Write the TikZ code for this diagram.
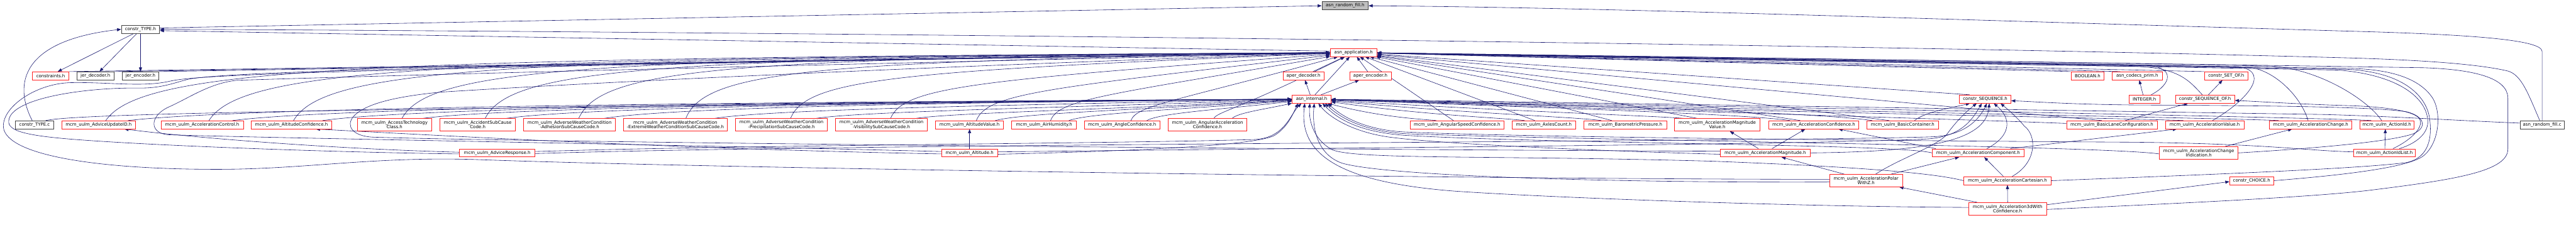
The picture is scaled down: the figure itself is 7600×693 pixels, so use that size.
\documentclass[tikz,border=0pt]{standalone}
\usepackage{fontspec}
\newfontfamily\dvs{DejaVu Sans}
\usetikzlibrary{arrows.meta}
\definecolor{edgeblue}{HTML}{191970}
\definecolor{nodered}{HTML}{FF2020}
\definecolor{nodegrey}{HTML}{404040}
\definecolor{rootfill}{HTML}{BFBFBF}
\pgfdeclarelayer{bg}
\pgfsetlayers{bg,main}
\tikzset{
  basebox/.style={draw, line width=1.3pt, fill=white, inner sep=0pt, minimum height=24pt, align=center, font=\dvs\fontsize{13pt}{14pt}\selectfont},
  redbox/.style={basebox, draw=nodered},
  blkbox/.style={basebox, draw=nodegrey},
  tworow/.style={minimum height=37pt},
  edg/.style={draw=edgeblue, line width=1.1pt, -{Triangle[length=12pt,width=9pt]}},
}
\begin{document}
\begin{tikzpicture}[x=1pt,y=-1pt]
\useasboundingbox (0,0) rectangle (7600,693);
% ---------- nodes ----------
\node[blkbox, fill=rootfill, minimum width=137pt] (rfh) at (3968.5,17) {asn\_random\_fill.h};
\node[blkbox, minimum width=113pt] (ctypeh) at (414.5,86.5) {constr\_TYPE.h};
\node[redbox, minimum width=137pt] (apph) at (3993.5,155) {asn\_application.h};
% rank 3
\node[redbox, minimum width=107pt] (constraints) at (149.5,224) {constraints.h};
\node[blkbox, minimum width=109pt] (jerdec) at (281.5,224) {jer\_decoder.h};
\node[blkbox, minimum width=109pt] (jerenc) at (414.5,224) {jer\_encoder.h};
\node[redbox, minimum width=121pt] (aperdec) at (3845.5,224) {aper\_decoder.h};
\node[redbox, minimum width=122pt] (aperenc) at (4043,224) {aper\_encoder.h};
\node[redbox, minimum width=98pt] (boolean) at (6159,224) {BOOLEAN.h};
\node[redbox, minimum width=147pt] (codecsprim) at (6305.5,224) {asn\_codecs\_prim.h};
\node[redbox, minimum width=128pt] (setof) at (6568,224) {constr\_SET\_OF.h};
% rank 4
\node[redbox, minimum width=115pt] (internal) at (3869.5,292.5) {asn\_internal.h};
\node[redbox, minimum width=152pt] (seq) at (5857,292.5) {constr\_SEQUENCE.h};
\node[redbox, minimum width=91pt] (integer) at (6326.5,292.5) {INTEGER.h};
\node[redbox, minimum width=175pt] (seqof) at (6505.5,292.5) {constr\_SEQUENCE\_OF.h};
% rank 5
\node[blkbox, minimum width=112pt] (ctypec) at (102,368.5) {constr\_TYPE.c};
\node[redbox, minimum width=218pt] (adviceupd) at (291,368.5) {mcm\_uulm\_AdviceUpdateID.h};
\node[redbox, minimum width=243pt] (accctrl) at (596.5,368.5) {mcm\_uulm\_AccelerationControl.h};
\node[redbox, minimum width=238pt] (altconf) at (860,368.5) {mcm\_uulm\_AltitudeConfidence.h};
\node[redbox, tworow, minimum width=220pt] (accesstech) at (1164,368.5) {mcm\_uulm\_AccessTechnology\\Class.h};
\node[redbox, tworow, minimum width=223pt] (accsub) at (1409.5,368.5) {mcm\_uulm\_AccidentSubCause\\Code.h};
\node[redbox, tworow, minimum width=271pt] (awcadh) at (1680.5,368.5) {mcm\_uulm\_AdverseWeatherCondition\\-AdhesionSubCauseCode.h};
\node[redbox, tworow, minimum width=307pt] (awcext) at (1992.5,368.5) {mcm\_uulm\_AdverseWeatherCondition\\-ExtremeWeatherConditionSubCauseCode.h};
\node[redbox, tworow, minimum width=271pt] (awcprec) at (2305.5,368.5) {mcm\_uulm\_AdverseWeatherCondition\\-PrecipitationSubCauseCode.h};
\node[redbox, tworow, minimum width=271pt] (awcvis) at (2600.5,368.5) {mcm\_uulm\_AdverseWeatherCondition\\-VisibilitySubCauseCode.h};
\node[redbox, minimum width=201pt] (altval) at (2860.5,368.5) {mcm\_uulm\_AltitudeValue.h};
\node[redbox, minimum width=191pt] (airhum) at (3080.5,368.5) {mcm\_uulm\_AirHumidity.h};
\node[redbox, minimum width=223pt] (angconf) at (3310.5,368.5) {mcm\_uulm\_AngleConfidence.h};
\node[redbox, tworow, minimum width=233pt] (angacc) at (3562.5,368.5) {mcm\_uulm\_AngularAcceleration\\Confidence.h};
\node[redbox, minimum width=276pt] (angspd) at (4299,368.5) {mcm\_uulm\_AngularSpeedConfidence.h};
\node[redbox, minimum width=188pt] (axles) at (4555,368.5) {mcm\_uulm\_AxlesCount.h};
\node[redbox, minimum width=244pt] (baro) at (4795,368.5) {mcm\_uulm\_BarometricPressure.h};
\node[redbox, tworow, minimum width=253pt] (accmagval) at (5066.5,368.5) {mcm\_uulm\_AccelerationMagnitude\\Value.h};
\node[redbox, minimum width=266pt] (accconf) at (5351,368.5) {mcm\_uulm\_AccelerationConfidence.h};
\node[redbox, minimum width=211pt] (basiccont) at (5613.5,368.5) {mcm\_uulm\_BasicContainer.h};
\node[redbox, minimum width=267pt] (basiclane) at (6230.5,368.5) {mcm\_uulm\_BasicLaneConfiguration.h};
\node[redbox, minimum width=231pt] (accval) at (6504.5,368.5) {mcm\_uulm\_AccelerationValue.h};
\node[redbox, minimum width=243pt] (accchg) at (6817.5,368.5) {mcm\_uulm\_AccelerationChange.h};
\node[redbox, minimum width=159pt] (actionid) at (7041.5,368.5) {mcm\_uulm\_ActionId.h};
\node[blkbox, minimum width=130pt] (rfc) at (7500,368.5) {asn\_random\_fill.c};
% rank 6
\node[redbox, minimum width=222pt] (adviceresp) at (1467,451.5) {mcm\_uulm\_AdviceResponse.h};
\node[redbox, minimum width=165pt] (altitude) at (2860.5,451.5) {mcm\_uulm\_Altitude.h};
\node[redbox, minimum width=264pt] (accmag) at (5208,451.5) {mcm\_uulm\_AccelerationMagnitude.h};
\node[redbox, minimum width=270pt] (acccomp) at (5836,451.5) {mcm\_uulm\_AccelerationComponent.h};
\node[redbox, tworow, minimum width=232pt] (accchgind) at (6487,451.5) {mcm\_uulm\_AccelerationChange\\Indication.h};
\node[redbox, minimum width=182pt] (actionidlist) at (7035,451.5) {mcm\_uulm\_ActionIdList.h};
% rank 7
\node[redbox, tworow, minimum width=215pt] (accpolar) at (5505.5,533.5) {mcm\_uulm\_AccelerationPolar\\WithZ.h};
\node[redbox, minimum width=257pt] (acccart) at (5922.5,533.5) {mcm\_uulm\_AccelerationCartesian.h};
\node[redbox, minimum width=130pt] (choice) at (6643,533.5) {constr\_CHOICE.h};
% rank 8
\node[redbox, tworow, minimum width=230pt] (acc3d) at (5923,616.5) {mcm\_uulm\_Acceleration3dWith\\Confidence.h};

\begin{pgfonlayer}{bg}
\fill[white] (0,0) rectangle (7600,693);
% ---------- top ----------
\draw[edg] ([yshift=4pt]ctypeh.east) -- (rfh.west);
\draw[edg] (rfc.north) -- (7500,152) .. controls (7500,118) and (7300,102) .. (6930,92) .. controls (5500,50) and (4700,22) .. (rfh.east);
\draw[edg] ([xshift=-7pt]rfc.north) .. controls (7460,280) and (7440,222) .. (7400,210) .. controls (7300,186) and (7100,176) .. (6930,171) .. controls (5000,118) and (1500,90) .. (ctypeh.east);
\draw[edg] ([yshift=4pt]apph.west) -- ([yshift=-4pt]ctypeh.east);
\draw[edg] ([xshift=-7pt]ctypec.north) .. controls (40,250) and (60,120) .. (ctypeh.west);
\draw[edg] ([xshift=-20pt]ctypeh.south) -- ([xshift=21pt]constraints.north);
\draw[edg] ([xshift=-11pt]ctypeh.south) -- ([xshift=12pt]jerdec.north);
\draw[edg] (ctypeh.south) -- (jerenc.north);
\draw[edg] (constraints.north east) -- (apph);
\draw[edg] (jerdec.north east) -- (apph);
\draw[edg] (jerenc.north east) -- (apph);
\draw[edg] ([xshift=33pt]ctypec.north) .. controls (250,330) and (1500,318) .. (internal);
% ---------- left rank 5 ----------
\foreach \nn/\xx/\sa/\si in {adviceupd/291/21/87, accctrl/596.5/20/90, altconf/860/6/92, accesstech/1164/22/84, accsub/1409.5/22/85, awcadh/1680.5/27/103, awcext/1992.5/31/117, awcprec/2305.5/27/103, awcvis/2600.5/27/103, altval/2860.5/20/76, airhum/3080.5/19/73, angconf/3310.5/26/73, angacc/3562.5/19/73}{
  \pgfmathsetmacro\qxa{\xx+\sa}
  \pgfmathsetmacro\qD{3925-\qxa}
  \pgfmathsetmacro\qf{min(1,\qD/2000)}
  \pgfmathsetmacro\qcax{\qxa+0.03*\qD}
  \pgfmathsetmacro\qcay{357-157*\qf}
  \pgfmathsetmacro\qcbx{\qxa+0.2*\qD}
  \pgfmathsetmacro\qcby{357-185*\qf}
  \draw[edg] ([xshift=\sa pt]\nn.north) .. controls (\qcax,\qcay) and (\qcbx,\qcby) .. (apph);
  \pgfmathsetmacro\qxi{\xx+\si}
  \pgfmathsetmacro\qE{3812-\qxi}
  \pgfmathsetmacro\qg{max(0.6,min(1,\qE/2000))}
  \pgfmathsetmacro\qcix{\qxi+0.1*\qE}
  \pgfmathsetmacro\qciy{357-40*\qg}
  \pgfmathsetmacro\qcjx{\qxi+0.5*\qE}
  \pgfmathsetmacro\qcjy{357-55*\qg}
  \draw[edg] ([xshift=\si pt]\nn.north) .. controls (\qcix,\qciy) and (\qcjx,\qcjy) .. (internal);
}
% ---------- right rank 5 ----------
\foreach \nn/\xx/\sa/\si in {angspd/4299/-11/-62, axles/4555/-27/-57, baro/4795/-40/-71, accmagval/5066.5/-60/-100, accconf/5351/-40/-70, basiccont/5613.5/-40/-90}{
  \draw[edg] ([xshift=\sa pt]\nn.north) -- (apph);
  \pgfmathsetmacro\qxi{\xx+\si}
  \pgfmathsetmacro\qE{\qxi-3927}
  \pgfmathsetmacro\qg{min(1,\qE/2000)}
  \pgfmathsetmacro\qcix{\qxi-0.1*\qE}
  \pgfmathsetmacro\qciy{357-30*\qg}
  \pgfmathsetmacro\qcjx{\qxi-0.5*\qE}
  \pgfmathsetmacro\qcjy{357-55*\qg}
  \draw[edg] ([xshift=\si pt]\nn.north) .. controls (\qcix,\qciy) and (\qcjx,\qcjy) .. (internal);
}
\draw[edg] ([xshift=35pt]basiccont.north) .. controls (5680,330) and (5760,318) .. ([xshift=-45pt]seq.south);
\draw[edg] ([xshift=-30pt]basiclane.north) -- (apph);
\draw[edg] ([yshift=4pt]basiclane.west) .. controls (5900,356) and (5000,330) .. (internal);
\draw[edg] ([xshift=40pt]basiclane.north) -- ([xshift=-50pt]seqof.south);
\draw[edg] ([xshift=23pt]accval.north) .. controls (6625,300) and (6700,215) .. (6610,198) .. controls (6000,184) and (4600,165) .. (apph);
\draw[edg] ([xshift=-63pt]accval.north) .. controls (6300,350) and (5200,330) .. (internal);
\draw[edg] ([xshift=-8pt]accchg.north) .. controls (6790,290) and (6720,215) .. (6645,200) .. controls (6000,186) and (4600,166) .. (apph);
\draw[edg] ([xshift=-95pt]accchg.north) .. controls (6600,350) and (5500,330) .. (internal);
\draw[edg] ([xshift=-15pt]actionid.north) .. controls (6990,300) and (6850,205) .. (6700,195) .. controls (6000,181) and (4600,163) .. (apph);
\draw[edg] ([xshift=-46pt]actionid.north) .. controls (6900,350) and (6000,330) .. (internal);
\draw[edg] ([yshift=5pt]rfc.west) .. controls (7250,356) and (7050,343) .. (6850,338) .. controls (6000,325) and (4500,300) .. (internal);
% ---------- aper / internal ----------
\draw[edg] ([xshift=28pt]aperdec.north) -- (apph);
\draw[edg] ([xshift=-8pt]aperenc.north) -- (apph);
\draw[edg] ([xshift=10pt]internal.north) -- (apph);
\draw[edg] ([xshift=-4pt]internal.north) -- (aperdec);
\draw[edg] ([xshift=28pt]internal.north) -- (aperenc);
% ---------- rank 4 right ----------
\draw[edg] ([xshift=-46pt]seq.north) -- (apph);
\draw[edg] ([xshift=-4pt]integer.north) -- ([xshift=6pt]codecsprim.south);
\draw[edg] ([xshift=20pt]integer.north) .. controls (6405,250) and (6425,195) .. (6320,192) .. controls (5500,180) and (4600,165) .. (apph);
\draw[edg] ([xshift=-50pt]codecsprim.north) -- (apph);
\draw[edg] (boolean.north west) -- (apph);
\draw[edg] ([xshift=10pt]seqof.north) -- ([xshift=-11pt]setof.south);
\draw[edg] ([xshift=-8pt]seqof.north) .. controls (6460,240) and (6430,200) .. (6300,196) .. controls (5500,184) and (4600,167) .. (apph);
\draw[edg] (setof.north west) -- (apph);
% ---------- rank 6 left ----------
\draw[edg] ([yshift=2pt]adviceresp.west) .. controls (1000,440) and (600,410) .. ([xshift=76pt]adviceupd.south);
\draw[edg] ([yshift=-3pt]adviceresp.west) .. controls (1000,450) and (500,432) .. (250,414) .. controls (80,402) and (20,388) .. (26,355) .. controls (34,290) and (250,258) .. (410,260) .. controls (480,261) and (520,242) .. (560,233) .. controls (700,212) and (1200,196) .. (apph);
\draw[edg] ([yshift=4pt]adviceresp.east) .. controls (2200,428) and (3300,424) .. (3700,412) .. controls (3790,408) and (3805,340) .. ([xshift=-30pt]internal.south);
\draw[edg] ([yshift=-2pt]adviceresp.east) .. controls (2500,424) and (5300,418) .. (5700,404) .. controls (5800,400) and (5840,350) .. ([xshift=5pt]seq.south);
\draw[edg] (altitude.north) -- (altval.south);
\draw[edg] ([yshift=-3pt]altitude.west) .. controls (2000,440) and (1300,400) .. ([xshift=72pt]altconf.south);
\draw[edg] ([yshift=4pt]altitude.west) .. controls (2000,427) and (800,408) .. (500,398) .. controls (440,396) and (438,342) .. (500,315) .. controls (560,288) and (620,245) .. (700,237) .. controls (1500,212) and (3000,178) .. (apph);
\draw[edg] ([yshift=-4pt]altitude.east) .. controls (3300,447) and (3700,432) .. (3760,400) .. controls (3800,375) and (3815,335) .. ([xshift=-40pt]internal.south);
\draw[edg] ([yshift=3pt]altitude.east) .. controls (4000,436) and (5400,426) .. (5690,410) .. controls (5790,402) and (5820,350) .. ([xshift=-10pt]seq.south);
% ---------- rank 6 right ----------
\draw[edg] ([xshift=-20pt]accmag.north) -- ([xshift=37pt]accmagval.south);
\draw[edg] ([xshift=20pt]accmag.north) -- ([xshift=-25pt]accconf.south);
\draw[edg] (accmag.east) .. controls (5650,448) and (5860,425) .. ([xshift=12pt]seq.south);
\draw[edg] ([yshift=5pt]accmag.west) .. controls (3500,440) and (1500,418) .. (1100,405) .. controls (1040,402) and (1020,372) .. (1042,345) .. controls (1080,300) and (1200,282) .. (1300,272) .. controls (2000,228) and (3200,180) .. (apph);
\draw[edg] ([yshift=-4pt]accmag.west) .. controls (4700,445) and (4250,425) .. (4100,405) .. controls (3990,390) and (3920,345) .. ([xshift=20pt]internal.south);
\draw[edg] ([xshift=95pt]acccomp.north) -- ([xshift=-82pt]accval.south);
\draw[edg] ([xshift=-125pt]acccomp.north) -- ([xshift=73pt]accconf.south);
\draw[edg] ([xshift=26pt]acccomp.north) .. controls (5935,400) and (5935,350) .. ([xshift=25pt]seq.south);
\draw[edg] (acccomp.west) .. controls (5600,425) and (4600,425) .. (4150,400) .. controls (4000,390) and (3940,345) .. ([xshift=32pt]internal.south);
\draw[edg] ([xshift=78pt]accchgind.north) -- ([xshift=-55pt]accchg.south);
\draw[edg] ([yshift=-3pt]accchgind.west) .. controls (6200,430) and (4700,415) .. (4150,395) .. controls (4020,388) and (3950,345) .. ([xshift=40pt]internal.south);
\draw[edg] (accchgind.east) .. controls (6800,440) and (7050,420) .. (7120,395) .. controls (7165,375) and (7150,342) .. (7100,330) .. controls (7000,315) and (6700,312) .. (6300,310) .. controls (6100,308) and (6000,300) .. ([yshift=-5pt]seq.east);
\draw[edg] ([xshift=1pt]actionidlist.north) -- ([xshift=-4pt]actionid.south);
\draw[edg] ([xshift=25pt]actionidlist.north) .. controls (7120,410) and (7152,372) .. (7138,350) .. controls (7115,322) and (7000,314) .. (6930,312) .. controls (6800,308) and (6700,302) .. ([yshift=-4pt]seqof.east);
\draw[edg] ([xshift=44pt]actionidlist.north) .. controls (7140,420) and (7168,385) .. (7162,350) .. controls (7155,290) and (7080,222) .. (6900,207) .. controls (6300,196) and (5000,174) .. (apph);
\draw[edg] ([yshift=3pt]actionidlist.west) .. controls (6800,445) and (6700,425) .. (6300,420) .. controls (5500,415) and (4500,405) .. (4150,390) .. controls (4030,385) and (3960,345) .. ([xshift=48pt]internal.south);
% ---------- rank 7 ----------
\draw[edg] ([xshift=-64pt]accpolar.north) -- ([xshift=48pt]accmag.south);
\draw[edg] ([xshift=73pt]accpolar.north) -- ([xshift=-56pt]acccomp.south);
\draw[edg] ([xshift=28pt]accpolar.north) .. controls (5600,470) and (5720,430) .. (5745,395) .. controls (5770,360) and (5800,330) .. ([xshift=-25pt]seq.south);
\draw[edg] ([yshift=-4pt]accpolar.west) .. controls (4800,540) and (4100,522) .. (3960,482) .. controls (3890,458) and (3870,385) .. ([xshift=8pt]internal.south);
\draw[edg] ([yshift=4pt]accpolar.west) .. controls (4500,530) and (2200,500) .. (1400,471) .. controls (1100,462) and (900,500) .. (640,500) .. controls (300,500) and (40,462) .. (12,385) .. controls (-6,325) and (100,246) .. (210,244) .. controls (320,242) and (420,258) .. (500,240) .. controls (570,224) and (800,204) .. (apph);
\draw[edg] ([xshift=-12pt]acccart.north) -- ([xshift=18pt]acccomp.south);
\draw[edg] ([xshift=14pt]acccart.north) .. controls (6010,480) and (6010,400) .. (5972,372) .. controls (5950,345) and (5920,320) .. ([xshift=45pt]seq.south);
\draw[edg] (acccart.west) .. controls (5720,515) and (5550,495) .. (5050,476) .. controls (4400,458) and (4000,472) .. (3930,442) .. controls (3880,415) and (3860,362) .. ([xshift=-5pt]internal.south);
\draw[edg] (acccart.east) .. controls (6400,520) and (6950,500) .. (7100,480) .. controls (7170,465) and (7175,400) .. (7168,350) .. controls (7160,290) and (7100,215) .. (6930,205) .. controls (6300,194) and (5000,172) .. (apph);
\draw[edg] (choice.east) .. controls (6850,522) and (7100,500) .. (7150,460) .. controls (7200,420) and (7205,320) .. (7170,280) .. controls (7130,230) and (7050,204) .. (6930,202) .. controls (6300,192) and (5000,170) .. (apph);
% ---------- rank 8 ----------
\draw[edg] (acc3d.north) -- (acccart.south);
\draw[edg] ([xshift=-90pt]acc3d.north) -- ([xshift=-10pt]accpolar.south east);
\draw[edg] ([yshift=12pt]acc3d.east) -- ([yshift=-3pt]choice.west);
\draw[edg] ([yshift=-2pt]acc3d.east) .. controls (6300,606) and (6800,585) .. (6990,562) .. controls (7250,530) and (7399,505) .. (7399,440) -- (7399,290) .. controls (7399,230) and (7300,205) .. (7150,200) .. controls (6500,190) and (5000,168) .. (apph);
\draw[edg] ([yshift=4pt]acc3d.west) .. controls (5300,610) and (4600,585) .. (4300,565) .. controls (3960,540) and (3830,460) .. ([xshift=-20pt]internal.south);
\end{pgfonlayer}
\end{tikzpicture}
\end{document}
